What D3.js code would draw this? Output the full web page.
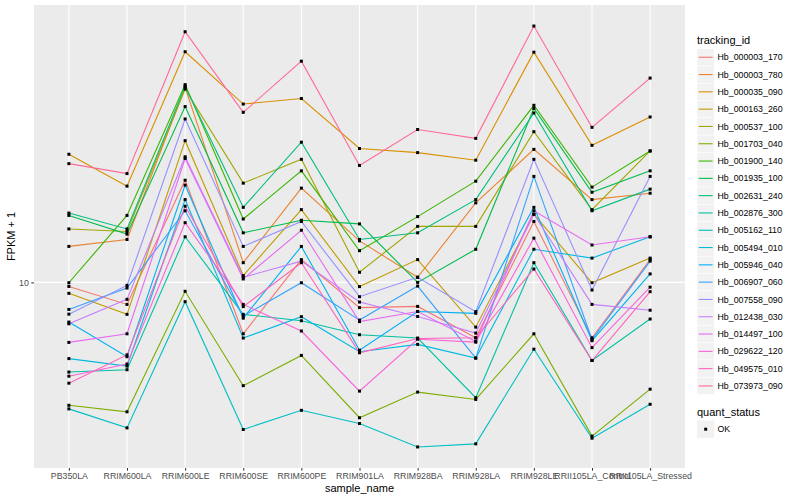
<!DOCTYPE html>
<html>
<head>
<meta charset="utf-8">
<script src="https://cdn.jsdelivr.net/npm/d3@7"></script>
<style>
  body { margin: 0; background: #fff; }
  svg { font-family: "Liberation Sans", Arial, sans-serif; display: block; }
</style>
</head>
<body>
<div class="chart"></div>
<script>
// samples on the x axis
const samples = ["PB350LA", "RRIM600LA", "RRIM600LE", "RRIM600SE", "RRIM600PE", "RRIM901LA",
  "RRIM928BA", "RRIM928LA", "RRIM928LE", "RRII105LA_Control", "RRII105LA_Stressed"];

const trackingIds = ["Hb_000003_170", "Hb_000003_780", "Hb_000035_090", "Hb_000163_260", "Hb_000537_100",
  "Hb_001703_040", "Hb_001900_140", "Hb_001935_100", "Hb_002631_240", "Hb_002876_300",
  "Hb_005162_110", "Hb_005494_010", "Hb_005946_040", "Hb_006907_060", "Hb_007558_090",
  "Hb_012438_030", "Hb_014497_100", "Hb_029622_120", "Hb_049575_010", "Hb_073973_090"];

// FPKM + 1, one value per sample
const hb000003_170 = [9.77, 8.81, 18.0, 7.44, 11.4, 8.65, 8.71, 7.27, 14.2, 7.27, 11.4];
const hb000003_780 = [12.3, 12.8, 30.7, 11.2, 17.2, 12.7, 10.3, 15.8, 21.5, 16.1, 16.7];
const hb000035_090 = [20.9, 17.4, 37.7, 27.9, 28.8, 21.6, 21.1, 20.2, 37.6, 22.0, 25.9];
const hb000163_260 = [9.39, 8.32, 22.6, 10.4, 15.2, 9.76, 11.4, 7.73, 14.8, 9.98, 11.5];
const hb000537_100 = [13.6, 13.4, 30.4, 17.7, 20.3, 10.6, 13.8, 13.8, 23.8, 15.2, 21.3];
const hb001703_040 = [4.93, 4.75, 9.50, 5.52, 6.57, 4.59, 5.32, 5.10, 7.44, 4.13, 5.41];
const hb001900_140 = [9.98, 14.7, 31.2, 14.4, 19.0, 12.0, 14.6, 17.9, 27.7, 17.3, 21.3];
const hb001935_100 = [14.7, 13.2, 27.5, 13.3, 14.3, 14.0, 10.0, 12.1, 27.2, 16.8, 19.0];
const hb002631_240 = [14.9, 13.6, 30.9, 15.4, 22.4, 12.8, 13.3, 16.1, 26.5, 15.1, 17.1];
const hb002876_300 = [5.97, 6.05, 13.0, 8.32, 8.02, 7.40, 7.26, 5.15, 11.2, 6.38, 8.10];
const hb005162_110 = [4.83, 4.33, 8.95, 4.29, 4.79, 4.44, 3.88, 3.95, 6.81, 4.08, 4.96];
const hb005494_010 = [6.45, 6.18, 16.1, 7.26, 8.21, 6.71, 7.00, 6.47, 12.1, 11.5, 13.0];
const hb005946_040 = [7.96, 6.52, 17.5, 8.14, 12.3, 6.77, 8.46, 8.37, 15.4, 7.15, 10.5];
const hb006907_060 = [8.56, 9.68, 15.1, 8.24, 9.98, 8.05, 9.79, 6.47, 18.4, 7.20, 11.3];
const hb007558_090 = [8.33, 9.83, 25.6, 12.3, 14.2, 9.21, 10.3, 8.45, 20.3, 9.57, 18.4];
const hb012438_030 = [7.88, 9.07, 20.6, 10.3, 11.3, 8.93, 8.22, 7.47, 14.8, 8.81, 8.52];
const hb014497_100 = [7.08, 7.44, 20.4, 10.2, 13.5, 7.98, 8.46, 7.12, 15.1, 12.4, 13.0];
const hb029622_120 = [5.83, 6.25, 14.1, 8.81, 7.56, 5.35, 7.21, 7.09, 12.9, 6.87, 9.73];
const hb049575_010 = [5.60, 6.59, 15.5, 8.70, 11.2, 6.67, 7.24, 7.27, 10.8, 6.38, 9.48];
const hb073973_090 = [19.8, 18.7, 42.3, 26.6, 35.7, 19.6, 24.1, 22.9, 43.7, 24.4, 32.4];

const seriesValues = [hb000003_170, hb000003_780, hb000035_090, hb000163_260, hb000537_100,
  hb001703_040, hb001900_140, hb001935_100, hb002631_240, hb002876_300,
  hb005162_110, hb005494_010, hb005946_040, hb006907_060, hb007558_090,
  hb012438_030, hb014497_100, hb029622_120, hb049575_010, hb073973_090];

const yTicks = [10];
const quantStatus = ["OK"];

// R style hcl (polar Luv) -> hex, same as ggplot's hue palette
function hcl2hex(h, c, l) {
  const rad = h * Math.PI / 180;
  const u = c * Math.cos(rad), v = c * Math.sin(rad);
  const xn = 95.047, yn = 100, zn = 108.883;
  const un = 4 * xn / (xn + 15 * yn + 3 * zn), vn = 9 * yn / (xn + 15 * yn + 3 * zn);
  const Y = l > 8 ? yn * Math.pow((l + 16) / 116, 3) : yn * l / 903.3;
  const up = u / (13 * l) + un, vp = v / (13 * l) + vn;
  const X = Y * 9 * up / (4 * vp), Z = Y * (12 - 3 * up - 20 * vp) / (4 * vp);
  const lin = [3.240479 * X - 1.537150 * Y - 0.498535 * Z,
    -0.969256 * X + 1.875992 * Y + 0.041556 * Z,
    0.055648 * X - 0.204043 * Y + 1.057311 * Z].map(t => t / 100);
  const gam = t => t <= 0.0031308 ? 12.92 * t : 1.055 * Math.pow(t, 1 / 2.4) - 0.055;
  const [r, g, b] = lin.map(t => Math.round(255 * Math.max(0, Math.min(1, gam(t)))));
  return d3.rgb(r, g, b).formatHex();
}

const colors = trackingIds.map((d, i) => hcl2hex(15 + i * 360 / trackingIds.length, 100, 65));

const width = 800, height = 500;
const panel = { left: 34, right: 685, top: 5, bottom: 468 };

const svg = d3.select(".chart").append("svg")
  .attr("width", width)
  .attr("height", height);

const x = d3.scalePoint()
  .domain(samples)
  .range([panel.left, panel.right])
  .padding(0.6);

// log scale, expanded by 5% like ggplot
const [lo, hi] = d3.extent(seriesValues.flat()).map(Math.log10);
const pad = (hi - lo) * 0.05;
const y = d3.scaleLog()
  .domain([10 ** (lo - pad), 10 ** (hi + pad)])
  .range([panel.bottom, panel.top]);

// panel background + grid
svg.append("rect")
  .attr("x", panel.left).attr("y", panel.top)
  .attr("width", panel.right - panel.left)
  .attr("height", panel.bottom - panel.top)
  .attr("fill", "#EBEBEB");

svg.append("g").selectAll("line")
  .data(samples)
  .join("line")
  .attr("x1", d => x(d)).attr("x2", d => x(d))
  .attr("y1", panel.top).attr("y2", panel.bottom)
  .attr("stroke", "#fff").attr("stroke-width", 1.1);

svg.append("g").selectAll("line")
  .data(yTicks)
  .join("line")
  .attr("x1", panel.left).attr("x2", panel.right)
  .attr("y1", d => y(d)).attr("y2", d => y(d))
  .attr("stroke", "#fff").attr("stroke-width", 1.1);

// lines
const line = d3.line()
  .x((d, i) => x(samples[i]))
  .y(d => y(d));

svg.append("g")
  .attr("fill", "none")
  .attr("stroke-width", 1.1)
  .selectAll("path")
  .data(seriesValues)
  .join("path")
  .attr("stroke", (d, i) => colors[i])
  .attr("d", line);

// points (quant_status = OK)
const pts = seriesValues.flatMap(vals => vals.map((v, i) => ({ s: samples[i], v })));
svg.append("g").selectAll("rect")
  .data(pts)
  .join("rect")
  .attr("x", d => x(d.s) - 1.5)
  .attr("y", d => y(d.v) - 1.5)
  .attr("width", 3).attr("height", 3)
  .attr("fill", "#000");

// axes
const xAxis = svg.append("g")
  .attr("transform", `translate(0,${panel.bottom})`)
  .call(d3.axisBottom(x).tickSize(2.7).tickPadding(2.5));
const yAxis = svg.append("g")
  .attr("transform", `translate(${panel.left},0)`)
  .call(d3.axisLeft(y).tickValues(yTicks).tickFormat(d3.format("d")).tickSize(2.7).tickPadding(2.5));

[xAxis, yAxis].forEach(g => {
  g.select(".domain").remove();
  g.selectAll(".tick line").attr("stroke", "#333333").attr("stroke-width", 1);
  g.selectAll(".tick text")
    .attr("fill", "#4D4D4D")
    .attr("font-size", 8.8)
    .attr("font-family", "Liberation Sans, Arial, sans-serif");
});

svg.append("text")
  .attr("x", (panel.left + panel.right) / 2)
  .attr("y", 492)
  .attr("text-anchor", "middle")
  .attr("font-size", 11)
  .text("sample_name");

svg.append("text")
  .attr("transform", `translate(15,${(panel.top + panel.bottom) / 2}) rotate(-90)`)
  .attr("text-anchor", "middle")
  .attr("font-size", 11)
  .text("FPKM + 1");

// legend: tracking_id
const leg = svg.append("g").attr("transform", "translate(697,0)");
leg.append("text")
  .attr("x", 0).attr("y", 44)
  .attr("font-size", 11)
  .text("tracking_id");

const keyStep = 17.3, keyTop = 48.6;
const keys = leg.selectAll("g.key")
  .data(trackingIds)
  .join("g")
  .attr("class", "key")
  .attr("transform", (d, i) => `translate(0,${keyTop + i * keyStep})`);

keys.append("rect")
  .attr("width", 17.3).attr("height", 17.3)
  .attr("fill", "#F2F2F2")
  .attr("stroke", "#fff").attr("stroke-width", 0.5);
keys.append("line")
  .attr("x1", 1.7).attr("x2", 15.6)
  .attr("y1", 8.65).attr("y2", 8.65)
  .attr("stroke", (d, i) => colors[i])
  .attr("stroke-width", 1.1);
keys.append("text")
  .attr("x", 20.5).attr("y", 8.65)
  .attr("dy", "0.35em")
  .attr("font-size", 8.8)
  .text(d => d);

// legend: quant_status
leg.append("text")
  .attr("x", 0).attr("y", 416)
  .attr("font-size", 11)
  .text("quant_status");

const qk = leg.selectAll("g.qkey")
  .data(quantStatus)
  .join("g")
  .attr("class", "qkey")
  .attr("transform", "translate(0,420.5)");
qk.append("rect")
  .attr("width", 17.3).attr("height", 17.3)
  .attr("fill", "#F2F2F2");
qk.append("rect")
  .attr("x", 7.2).attr("y", 7.2)
  .attr("width", 3).attr("height", 3)
  .attr("fill", "#000");
qk.append("text")
  .attr("x", 20.5).attr("y", 8.65)
  .attr("dy", "0.35em")
  .attr("font-size", 8.8)
  .text(d => d);
</script>
</body>
</html>
